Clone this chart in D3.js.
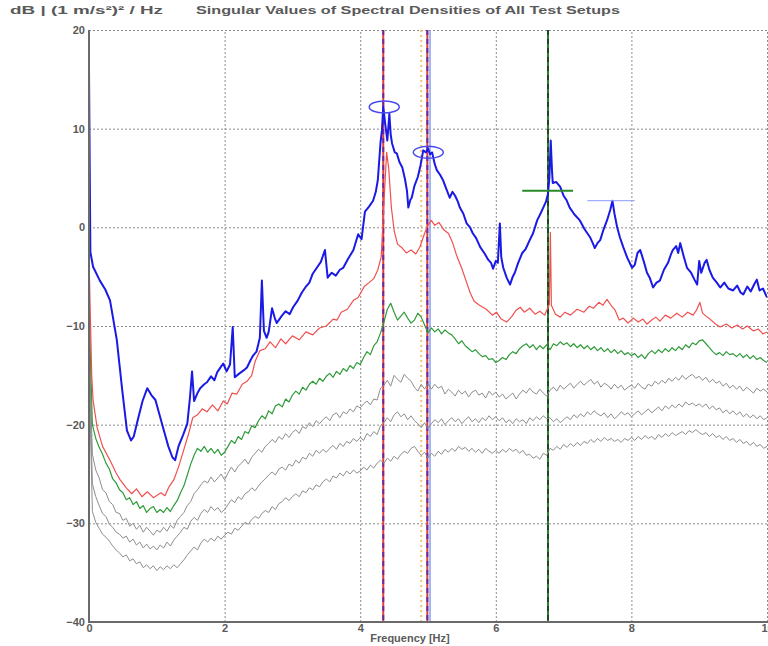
<!DOCTYPE html>
<html>
<head>
<meta charset="utf-8">
<title>Singular Values of Spectral Densities</title>
<style type="text/css">
    body { margin: 0; background: #ffffff; }
    svg { display: block; font-family: "Liberation Sans", Arial, sans-serif; }
    .lbl { fill: #5a5a5a; font-weight: bold; font-size: 11px; }
    .grid line { stroke: #8c8c8c; stroke-dasharray: 2,2; stroke-width: 1; }
    .grid path { display: none; }
</style>
</head>
<body>
<div id="chart"></div>
<script src="https://cdn.jsdelivr.net/npm/d3@7"></script>
<script>
// tick labels
var freqTicks = [0, 2, 4, 6, 8, 10];
var dbTicks = [-40, -30, -20, -10, 0, 10, 20];

// first singular value (blue) and second (red), [frequency Hz, dB]
var sv1 = [[0,16],[0.02,-2.5],[0.06,-4.0],[0.16,-5.4],[0.24,-6.3],[0.31,-7.4],[0.41,-11.4],[0.49,-16.5],[0.56,-20.6],
  [0.62,-21.6],[0.66,-21.2],[0.72,-19.5],[0.79,-17.6],[0.86,-16.3],[0.92,-17.0],[0.98,-17.5],[1.04,-19.0],[1.10,-20.5],
  [1.17,-22.2],[1.23,-23.3],[1.27,-23.6],[1.32,-22.2],[1.39,-21.0],[1.45,-19.9],[1.49,-17.2],[1.52,-14.6],[1.55,-17.6],
  [1.60,-16.8],[1.64,-16.3],[1.70,-15.9],[1.74,-15.7],[1.80,-15.1],[1.85,-15.5],[1.89,-14.7],[1.94,-14.2],[1.98,-13.8],
  [2.03,-14.6],[2.08,-13.9],[2.12,-10.1],[2.15,-15.2],[2.22,-14.8],[2.28,-14.5],[2.33,-14.2],[2.38,-13.5],[2.42,-13.0],
  [2.47,-12.6],[2.52,-11.2],[2.55,-5.4],[2.58,-10.5],[2.62,-11.2],[2.65,-10.6],[2.70,-8.2],[2.74,-9.2],[2.77,-9.7],
  [2.84,-9.0],[2.90,-8.5],[2.96,-8.8],[3.01,-8.1],[3.08,-7.4],[3.14,-6.6],[3.20,-6.0],[3.25,-5.6],[3.30,-4.7],
  [3.36,-4.1],[3.42,-3.5],[3.48,-2.3],[3.52,-5.1],[3.58,-4.6],[3.64,-4.9],[3.70,-4.3],[3.75,-4.1],[3.82,-3.2],
  [3.90,-2.3],[3.97,-0.7],[4.02,-1.2],[4.07,1.6],[4.13,2.1],[4.19,2.7],[4.23,3.6],[4.26,4.8],[4.30,8.6],[4.32,9.8],
  [4.34,12.2],[4.37,10.4],[4.40,8.8],[4.43,11.5],[4.45,9.4],[4.47,8.5],[4.51,7.6],[4.54,7.5],[4.58,6.6],[4.62,6.1],
  [4.66,4.9],[4.69,3.7],[4.71,2.0],[4.74,2.8],[4.76,3.0],[4.80,4.2],[4.85,5.1],[4.89,6.3],[4.93,7.8],[4.97,7.6],
  [5.00,8.0],[5.03,7.4],[5.06,7.6],[5.10,6.4],[5.13,5.8],[5.18,5.3],[5.22,4.8],[5.27,3.9],[5.32,3.0],[5.36,3.6],
  [5.40,3.2],[5.44,2.6],[5.47,2.0],[5.52,1.4],[5.57,0.4],[5.62,0.0],[5.66,-0.6],[5.71,-1.1],[5.77,-2.0],[5.83,-2.6],
  [5.89,-3.3],[5.93,-3.6],[5.96,-4.2],[6.00,-3.4],[6.03,-3.6],[6.06,0.4],[6.08,-3.0],[6.11,-4.1],[6.16,-5.1],
  [6.21,-5.8],[6.25,-5.0],[6.28,-4.6],[6.33,-3.6],[6.39,-2.6],[6.44,-2.2],[6.50,-1.3],[6.55,-0.6],[6.61,0.7],
  [6.66,1.4],[6.70,2.0],[6.74,2.6],[6.77,3.4],[6.79,5.0],[6.81,8.8],[6.83,5.6],[6.84,4.5],[6.89,4.6],[6.95,4.1],
  [7.00,3.2],[7.04,2.8],[7.09,2.0],[7.16,1.3],[7.24,0.7],[7.31,-0.2],[7.39,-1.0],[7.43,-1.6],[7.46,-2.1],[7.50,-1.6],
  [7.54,-1.3],[7.59,-0.2],[7.64,0.7],[7.69,1.8],[7.72,2.7],[7.75,1.4],[7.79,0.0],[7.83,-1.0],[7.88,-2.0],[7.94,-3.1],
  [8.01,-4.1],[8.05,-3.8],[8.09,-2.6],[8.13,-2.3],[8.18,-3.4],[8.23,-4.6],[8.27,-5.1],[8.32,-6.1],[8.37,-5.6],
  [8.42,-5.4],[8.48,-4.3],[8.54,-3.6],[8.58,-2.8],[8.61,-2.3],[8.66,-1.9],[8.69,-2.6],[8.72,-1.6],[8.77,-2.9],
  [8.82,-4.1],[8.88,-4.6],[8.93,-5.3],[8.97,-5.8],[9.00,-3.4],[9.03,-4.6],[9.08,-3.6],[9.11,-3.3],[9.15,-4.3],
  [9.20,-5.1],[9.26,-5.6],[9.31,-6.1],[9.37,-5.6],[9.43,-6.2],[9.50,-6.4],[9.56,-5.9],[9.61,-6.6],[9.65,-6.8],
  [9.71,-6.0],[9.76,-6.5],[9.81,-5.8],[9.85,-5.3],[9.89,-6.4],[9.94,-6.2],[10.0,-7.1]];

var sv2 = [[0,-3],[0.02,-9],[0.04,-15],[0.06,-17.5],[0.12,-20.3],[0.2,-22.2],[0.31,-23.6],[0.4,-24.9],[0.46,-25.6],
  [0.55,-26.4],[0.63,-27.0],[0.7,-26.5],[0.78,-27.3],[0.86,-26.8],[0.95,-27.4],[1.06,-26.9],[1.12,-27.2],[1.18,-26.3],
  [1.25,-25.6],[1.32,-24.3],[1.4,-22.5],[1.47,-20.9],[1.53,-19.3],[1.6,-19.0],[1.67,-18.4],[1.74,-18.7],[1.82,-18.0],
  [1.9,-18.6],[1.98,-17.6],[2.04,-17.9],[2.11,-16.8],[2.18,-16.9],[2.26,-15.9],[2.33,-15.6],[2.4,-15.0],[2.45,-13.6],
  [2.52,-12.5],[2.6,-12.3],[2.67,-11.6],[2.75,-12.2],[2.83,-11.3],[2.9,-11.8],[3.0,-11.0],[3.1,-11.4],[3.2,-10.6],
  [3.3,-10.9],[3.4,-10.2],[3.5,-10.0],[3.6,-9.3],[3.66,-9.4],[3.72,-8.6],[3.81,-8.3],[3.9,-7.4],[3.97,-7.1],[4.06,-6.0],
  [4.13,-5.6],[4.2,-5.2],[4.26,-4.3],[4.31,-3.0],[4.35,2.5],[4.39,7.6],[4.42,6.0],[4.46,2.0],[4.5,-0.3],[4.55,-1.7],
  [4.62,-2.1],[4.68,-2.6],[4.75,-2.3],[4.82,-2.7],[4.88,-2.0],[4.94,-0.8],[4.99,0.1],[5.05,0.7],[5.1,0.2],[5.16,0.5],
  [5.24,-0.3],[5.3,-0.6],[5.36,-1.5],[5.42,-2.8],[5.5,-4.2],[5.56,-5.4],[5.62,-6.6],[5.68,-7.5],[5.76,-7.9],[5.86,-8.3],
  [5.95,-8.9],[6.01,-8.6],[6.08,-9.3],[6.16,-9.6],[6.24,-9.0],[6.3,-8.4],[6.36,-8.1],[6.42,-8.6],[6.5,-8.2],[6.58,-8.8],
  [6.65,-8.5],[6.72,-8.9],[6.79,-7.8],[6.805,-0.5],[6.82,-7.9],[6.88,-8.8],[6.95,-9.1],[7.02,-8.6],[7.1,-8.9],[7.2,-8.3],
  [7.3,-8.6],[7.38,-8.0],[7.44,-8.2],[7.52,-7.6],[7.58,-7.9],[7.64,-7.3],[7.7,-7.9],[7.76,-8.4],[7.82,-9.4],[7.88,-9.2],
  [7.95,-9.7],[8.03,-9.2],[8.1,-9.6],[8.17,-9.3],[8.23,-9.8],[8.3,-9.4],[8.36,-9.1],[8.42,-9.5],[8.5,-8.9],[8.58,-9.2],
  [8.67,-8.7],[8.75,-9.1],[8.83,-8.6],[8.91,-8.9],[8.96,-8.4],[9.01,-7.6],[9.05,-8.7],[9.1,-9.0],[9.16,-9.3],[9.24,-9.8],
  [9.31,-10.1],[9.4,-9.8],[9.48,-10.2],[9.56,-9.9],[9.64,-10.3],[9.71,-10.0],[9.8,-10.5],[9.87,-10.3],[9.94,-10.8],[10.0,-10.6]];

// lower singular values: first two points near 0 Hz, then one value per 0.05 Hz bin (0.05 .. 10.0), one row per Hz
var binWidth = 0.05;
var sv3Head = [[0,-6],[0.02,-13]];
var sv3Bins = [
  -20.0,-21.4,-22.3,-23.0,-23.9,-24.5,-25.5,-25.9,-26.6,-26.9,-27.6,-27.4,-28.1,-27.8,-28.5,-28.2,-28.9,-28.5,-28.3,-28.9,
  -28.6,-28.9,-28.4,-28.8,-28.2,-27.7,-26.9,-26.2,-25.1,-24.0,-23.1,-22.4,-22.7,-22.2,-22.8,-22.4,-22.9,-22.5,-23.1,-22.8,
  -22.2,-21.6,-21.9,-21.2,-21.5,-20.7,-20.9,-20.1,-20.3,-19.6,-19.1,-19.4,-18.6,-18.9,-18.1,-17.9,-18.2,-17.4,-17.7,-17.0,
  -16.6,-16.9,-16.2,-16.5,-15.9,-15.6,-15.9,-15.3,-15.6,-15.1,-14.8,-15.2,-14.6,-14.9,-14.3,-14.6,-14.0,-14.3,-13.7,-13.9,
  -13.2,-12.6,-12.9,-12.0,-11.6,-10.7,-9.6,-8.3,-7.7,-8.6,-9.4,-9.0,-8.6,-9.2,-9.7,-9.4,-8.7,-9.1,-9.9,-10.7,
  -10.2,-10.6,-10.3,-10.8,-10.4,-10.7,-10.9,-11.3,-11.8,-11.5,-12.0,-12.3,-12.6,-12.4,-12.8,-13.1,-13.0,-13.4,-13.3,-13.7,
  -13.5,-13.2,-13.4,-12.9,-12.6,-12.8,-12.3,-12.0,-11.8,-12.2,-11.9,-12.4,-12.0,-12.3,-11.9,-12.4,-11.8,-12.0,-11.6,-11.9,
  -11.7,-12.1,-11.8,-12.2,-11.9,-12.3,-12.0,-12.4,-12.1,-12.5,-12.2,-12.6,-12.3,-12.7,-12.4,-12.8,-12.5,-12.9,-12.7,-13.0,
  -12.8,-13.2,-12.9,-13.3,-12.8,-12.5,-12.8,-12.4,-12.7,-12.3,-12.6,-12.2,-12.5,-12.1,-12.4,-11.9,-12.2,-11.7,-11.9,-11.5,
  -11.4,-11.8,-12.2,-12.6,-12.9,-12.7,-13.0,-12.6,-12.9,-12.8,-13.1,-12.8,-13.2,-12.9,-13.3,-13.0,-13.4,-13.2,-13.5,-13.7];

var sv4Head = [[0,-8],[0.02,-16]];
var sv4Bins = [
  -23.0,-24.6,-25.4,-26.6,-26.9,-27.8,-28.1,-28.9,-29.0,-29.7,-29.5,-30.3,-30.0,-30.6,-30.2,-30.9,-30.4,-30.8,-31.2,-30.7,
  -30.9,-30.4,-30.8,-30.2,-30.5,-29.7,-29.3,-28.9,-28.2,-27.8,-27.0,-26.6,-26.1,-25.7,-25.9,-25.3,-25.8,-25.4,-25.0,-25.6,
  -24.9,-24.3,-24.8,-24.2,-23.9,-23.5,-24.0,-23.3,-22.9,-22.5,-22.8,-22.2,-21.9,-21.5,-21.8,-21.2,-21.5,-20.9,-21.3,-20.8,
  -20.5,-20.9,-20.2,-20.4,-19.8,-20.2,-19.6,-19.9,-19.5,-19.2,-19.6,-19.0,-18.8,-19.3,-18.7,-18.9,-18.4,-18.7,-18.1,-18.3,
  -17.9,-17.6,-18.0,-17.4,-17.5,-16.3,-16.0,-15.5,-16.1,-15.0,-15.4,-15.7,-14.9,-15.3,-15.6,-16.2,-16.6,-15.9,-16.4,-15.8,
  -16.4,-15.9,-16.3,-16.1,-16.9,-16.4,-16.7,-17.1,-16.5,-16.9,-16.6,-17.2,-16.7,-16.5,-17.0,-16.8,-17.3,-16.6,-17.0,-16.7,
  -17.2,-16.9,-17.4,-17.1,-16.8,-17.4,-16.9,-16.5,-16.8,-16.3,-16.7,-16.9,-16.4,-16.8,-17.1,-16.5,-16.2,-16.6,-16.0,-16.4,
  -16.1,-15.8,-16.3,-15.9,-15.6,-16.0,-15.7,-15.4,-15.9,-15.6,-16.2,-15.8,-16.0,-16.4,-15.9,-16.3,-16.0,-16.5,-16.2,-16.0,
  -16.3,-15.8,-16.2,-16.4,-15.9,-16.1,-15.6,-15.9,-15.5,-15.8,-15.3,-15.6,-15.2,-15.5,-15.0,-15.4,-15.1,-14.9,-15.3,-15.1,
  -15.5,-15.2,-15.7,-15.4,-15.8,-15.6,-16.1,-15.8,-16.3,-16.0,-16.4,-16.1,-16.6,-16.2,-16.5,-16.8,-16.3,-16.6,-16.4,-16.7];

var sv5Head = [[0,-10],[0.02,-18]];
var sv5Bins = [
  -26.0,-27.3,-28.2,-29.0,-29.3,-30.1,-30.4,-30.9,-31.1,-31.5,-31.3,-31.9,-31.6,-32.2,-31.9,-32.5,-32.1,-32.6,-32.3,-32.7,
  -32.2,-32.5,-31.9,-32.3,-31.7,-31.3,-30.9,-30.4,-30.6,-29.8,-29.4,-29.7,-29.0,-28.6,-28.9,-28.3,-28.7,-28.4,-28.9,-28.6,
  -28.1,-27.6,-27.9,-27.3,-27.6,-27.0,-26.8,-26.4,-26.7,-26.2,-25.8,-25.5,-25.1,-24.8,-25.1,-24.5,-24.3,-24.6,-24.0,-24.2,
  -23.6,-23.9,-23.3,-23.5,-22.9,-23.2,-22.6,-22.9,-22.5,-22.8,-22.4,-22.1,-22.5,-21.9,-22.2,-21.7,-21.9,-21.4,-21.7,-21.3,
  -21.6,-20.9,-21.2,-20.7,-21.0,-20.1,-19.8,-19.3,-19.7,-19.0,-18.7,-19.2,-18.9,-19.5,-19.1,-19.6,-19.9,-20.3,-19.8,-20.4,
  -19.9,-19.5,-19.8,-19.4,-20.0,-19.6,-19.3,-19.7,-19.4,-19.9,-19.5,-19.2,-19.7,-19.4,-19.8,-19.3,-19.6,-19.1,-19.5,-19.2,
  -19.6,-19.3,-19.8,-19.5,-19.9,-19.4,-19.7,-19.5,-19.9,-19.3,-19.6,-19.2,-19.5,-19.1,-19.4,-19.3,-19.7,-19.4,-19.8,-19.5,
  -19.2,-19.5,-19.0,-19.3,-18.9,-19.2,-18.7,-19.0,-18.6,-18.9,-19.1,-18.8,-19.3,-18.9,-19.4,-19.1,-18.7,-19.0,-18.8,-19.2,
  -18.9,-18.6,-19.0,-18.7,-18.4,-18.8,-18.5,-18.2,-18.6,-18.1,-18.4,-18.0,-18.3,-17.9,-18.2,-17.7,-18.0,-17.8,-18.1,-17.9,
  -18.2,-17.9,-18.4,-18.1,-18.5,-18.3,-18.8,-18.5,-18.9,-18.6,-19.0,-18.7,-19.2,-18.9,-19.3,-19.0,-19.4,-19.1,-19.5,-19.3];

var sv6Head = [[0,-12],[0.02,-20]];
var sv6Bins = [
  -28.8,-29.9,-30.5,-31.1,-31.4,-31.8,-32.3,-32.7,-33.0,-33.4,-33.2,-33.8,-33.6,-34.1,-33.9,-34.5,-34.2,-34.6,-34.3,-34.8,
  -34.4,-34.7,-34.3,-34.6,-34.2,-34.5,-34.1,-33.7,-33.2,-32.8,-32.4,-32.7,-32.0,-31.6,-31.9,-31.5,-31.8,-31.3,-31.6,-31.2,
  -30.9,-31.1,-30.5,-30.7,-30.3,-29.9,-30.1,-29.6,-29.3,-29.5,-29.0,-28.7,-28.9,-28.3,-28.6,-28.0,-27.8,-27.4,-27.7,-27.3,
  -27.0,-27.3,-26.7,-26.9,-26.4,-26.6,-26.1,-26.3,-25.8,-25.5,-25.8,-25.2,-25.4,-24.9,-25.2,-24.7,-25.0,-24.6,-24.9,-24.7,
  -24.3,-24.6,-24.1,-24.4,-23.9,-23.6,-23.9,-23.4,-23.7,-23.2,-23.5,-23.0,-22.7,-22.9,-22.4,-22.2,-22.7,-23.1,-22.8,-23.4,
  -22.9,-23.2,-22.7,-23.0,-22.5,-22.8,-22.4,-22.7,-22.2,-22.5,-22.3,-22.7,-22.4,-22.8,-22.5,-22.9,-22.4,-22.7,-22.9,-22.6,
  -22.9,-22.5,-22.8,-22.4,-22.7,-22.5,-22.9,-22.6,-23.1,-23.0,-23.4,-23.2,-23.5,-22.9,-23.1,-22.4,-22.6,-22.2,-22.5,-22.0,
  -22.3,-21.9,-22.2,-21.8,-22.1,-21.7,-21.9,-21.5,-21.8,-21.4,-21.7,-21.3,-21.6,-21.4,-21.7,-21.5,-21.8,-21.4,-21.6,-21.3,
  -21.6,-21.2,-21.5,-21.1,-21.4,-21.2,-21.5,-21.0,-21.3,-20.9,-21.2,-20.8,-21.1,-20.9,-20.7,-21.0,-20.6,-20.8,-20.5,-20.8,
  -21.0,-20.8,-21.2,-20.9,-21.3,-21.1,-21.5,-21.2,-21.6,-21.4,-21.8,-21.5,-21.9,-21.7,-22.1,-21.8,-22.2,-22.0,-22.4,-22.2];

// picked peaks (Hz) and marks
var peakFreqs = [4.34, 4.99];
var peakDb = [12.2, 7.6];
var yellowFreq = 4.90;
var lightBlueFreq = 5.03;
var greenFreq = 6.77;
var greenBar = [6.39, 7.14, 3.7];
var lightBar = [7.35, 8.05, 2.7];

function binned(head, bins) {
    return head.concat(bins.map((v, i) => [(i + 1) * binWidth, v]));
}

var width = 768, height = 646;
var mLeft = 89, mRight = 767, mTop = 30, mBottom = 622;

var svg = d3.select("#chart").append("svg")
    .attr("width", width)
    .attr("height", height);

var x = d3.scaleLinear().domain([0, 10]).range([mLeft, mRight]);
var y = d3.scaleLinear().domain([-40, 20]).range([mBottom, mTop]);

//  dotted grid
svg.append("g")
    .attr("class", "grid")
    .attr("transform", "translate(0," + mBottom + ")")
    .call(d3.axisBottom(x).tickValues(freqTicks.slice(1)).tickSize(-(mBottom - mTop)).tickFormat(""));
svg.append("g")
    .attr("class", "grid")
    .attr("transform", "translate(" + mLeft + ",0)")
    .call(d3.axisLeft(y).tickValues(dbTicks.slice(1)).tickSize(-(mRight - mLeft)).tickFormat(""));

svg.append("clipPath").attr("id", "plot")
    .append("rect").attr("x", mLeft).attr("y", mTop - 2).attr("width", mRight - mLeft).attr("height", mBottom - mTop + 2);

var plot = svg.append("g").attr("clip-path", "url(#plot)");

var line = d3.line().x(d => x(d[0])).y(d => y(d[1]));

//  vertical peak marks
function vline(f, colour, w, dash) {
    plot.append("line")
        .attr("x1", x(f)).attr("x2", x(f))
        .attr("y1", mTop).attr("y2", mBottom)
        .attr("stroke", colour).attr("stroke-width", w)
        .attr("stroke-dasharray", dash);
}
vline(yellowFreq, "#f5c070", 2, "2,3");
vline(lightBlueFreq, "#7fa0ff", 1.5, null);
peakFreqs.forEach(function (f) {
    vline(f, "#e03c3c", 2, null);
    vline(f, "#6a2c9a", 2, "5,4");
});
vline(greenFreq, "#2e7d2e", 2, null);
vline(greenFreq, "#111111", 1, "5,4");

var curves = [
    {data: binned(sv6Head, sv6Bins), colour: "#8e8e8e", w: 1},
    {data: binned(sv5Head, sv5Bins), colour: "#8e8e8e", w: 1},
    {data: binned(sv4Head, sv4Bins), colour: "#8e8e8e", w: 1},
    {data: binned(sv3Head, sv3Bins), colour: "#2f9a3a", w: 1.2},
    {data: sv2, colour: "#f05050", w: 1.2},
    {data: sv1, colour: "#1a1ae6", w: 2}
];
plot.selectAll("path.curve")
    .data(curves)
    .enter().append("path")
        .attr("class", "curve")
        .attr("d", d => line(d.data))
        .attr("fill", "none")
        .attr("stroke", d => d.colour)
        .attr("stroke-width", d => d.w)
        .attr("stroke-linejoin", "round");

//  peak ellipses and level bars
peakFreqs.forEach(function (f, i) {
    plot.append("ellipse")
        .attr("cx", x(f) + 1).attr("cy", y(peakDb[i]))
        .attr("rx", 15).attr("ry", 6)
        .attr("fill", "none").attr("stroke", "#4a4af0").attr("stroke-width", 1.5);
});
plot.append("line")
    .attr("x1", x(greenBar[0])).attr("x2", x(greenBar[1]))
    .attr("y1", y(greenBar[2])).attr("y2", y(greenBar[2]))
    .attr("stroke", "#2a8a2a").attr("stroke-width", 2);
plot.append("line")
    .attr("x1", x(lightBar[0])).attr("x2", x(lightBar[1]))
    .attr("y1", y(lightBar[2])).attr("y2", y(lightBar[2]))
    .attr("stroke", "#8c9cff").attr("stroke-width", 1);

//  axes frame
svg.append("line").attr("x1", mLeft).attr("x2", mLeft).attr("y1", mTop).attr("y2", mBottom + 1)
    .attr("stroke", "#6a6a6a").attr("stroke-width", 2);
svg.append("line").attr("x1", mLeft - 1).attr("x2", mRight + 2).attr("y1", mBottom).attr("y2", mBottom)
    .attr("stroke", "#6a6a6a").attr("stroke-width", 2);

//  tick labels
var yAxis = svg.append("g")
    .attr("transform", "translate(" + (mLeft - 2) + ",0)")
    .call(d3.axisLeft(y).tickValues(dbTicks).tickSize(0).tickPadding(2));
yAxis.select(".domain").remove();
yAxis.selectAll("text").attr("class", "lbl").attr("fill", null).style("font-size", "11px");

var xAxis = svg.append("g")
    .attr("transform", "translate(0," + (mBottom - 1) + ")")
    .call(d3.axisBottom(x).tickValues(freqTicks).tickSize(0).tickPadding(3));
xAxis.select(".domain").remove();
xAxis.selectAll("text").attr("class", "lbl").attr("fill", null).style("font-size", "11px");

svg.append("text").attr("class", "lbl")
    .attr("x", 410).attr("y", 642)
    .attr("text-anchor", "middle")
    .text("Frequency [Hz]");

svg.append("text").attr("class", "lbl")
    .attr("x", 10).attr("y", 14)
    .attr("textLength", 153).attr("lengthAdjust", "spacingAndGlyphs")
    .text("dB | (1 m/s²)² / Hz");

svg.append("text").attr("class", "lbl")
    .attr("x", 196).attr("y", 14)
    .attr("textLength", 424).attr("lengthAdjust", "spacingAndGlyphs")
    .text("Singular Values of Spectral Densities of All Test Setups");
</script>
</body>
</html>
